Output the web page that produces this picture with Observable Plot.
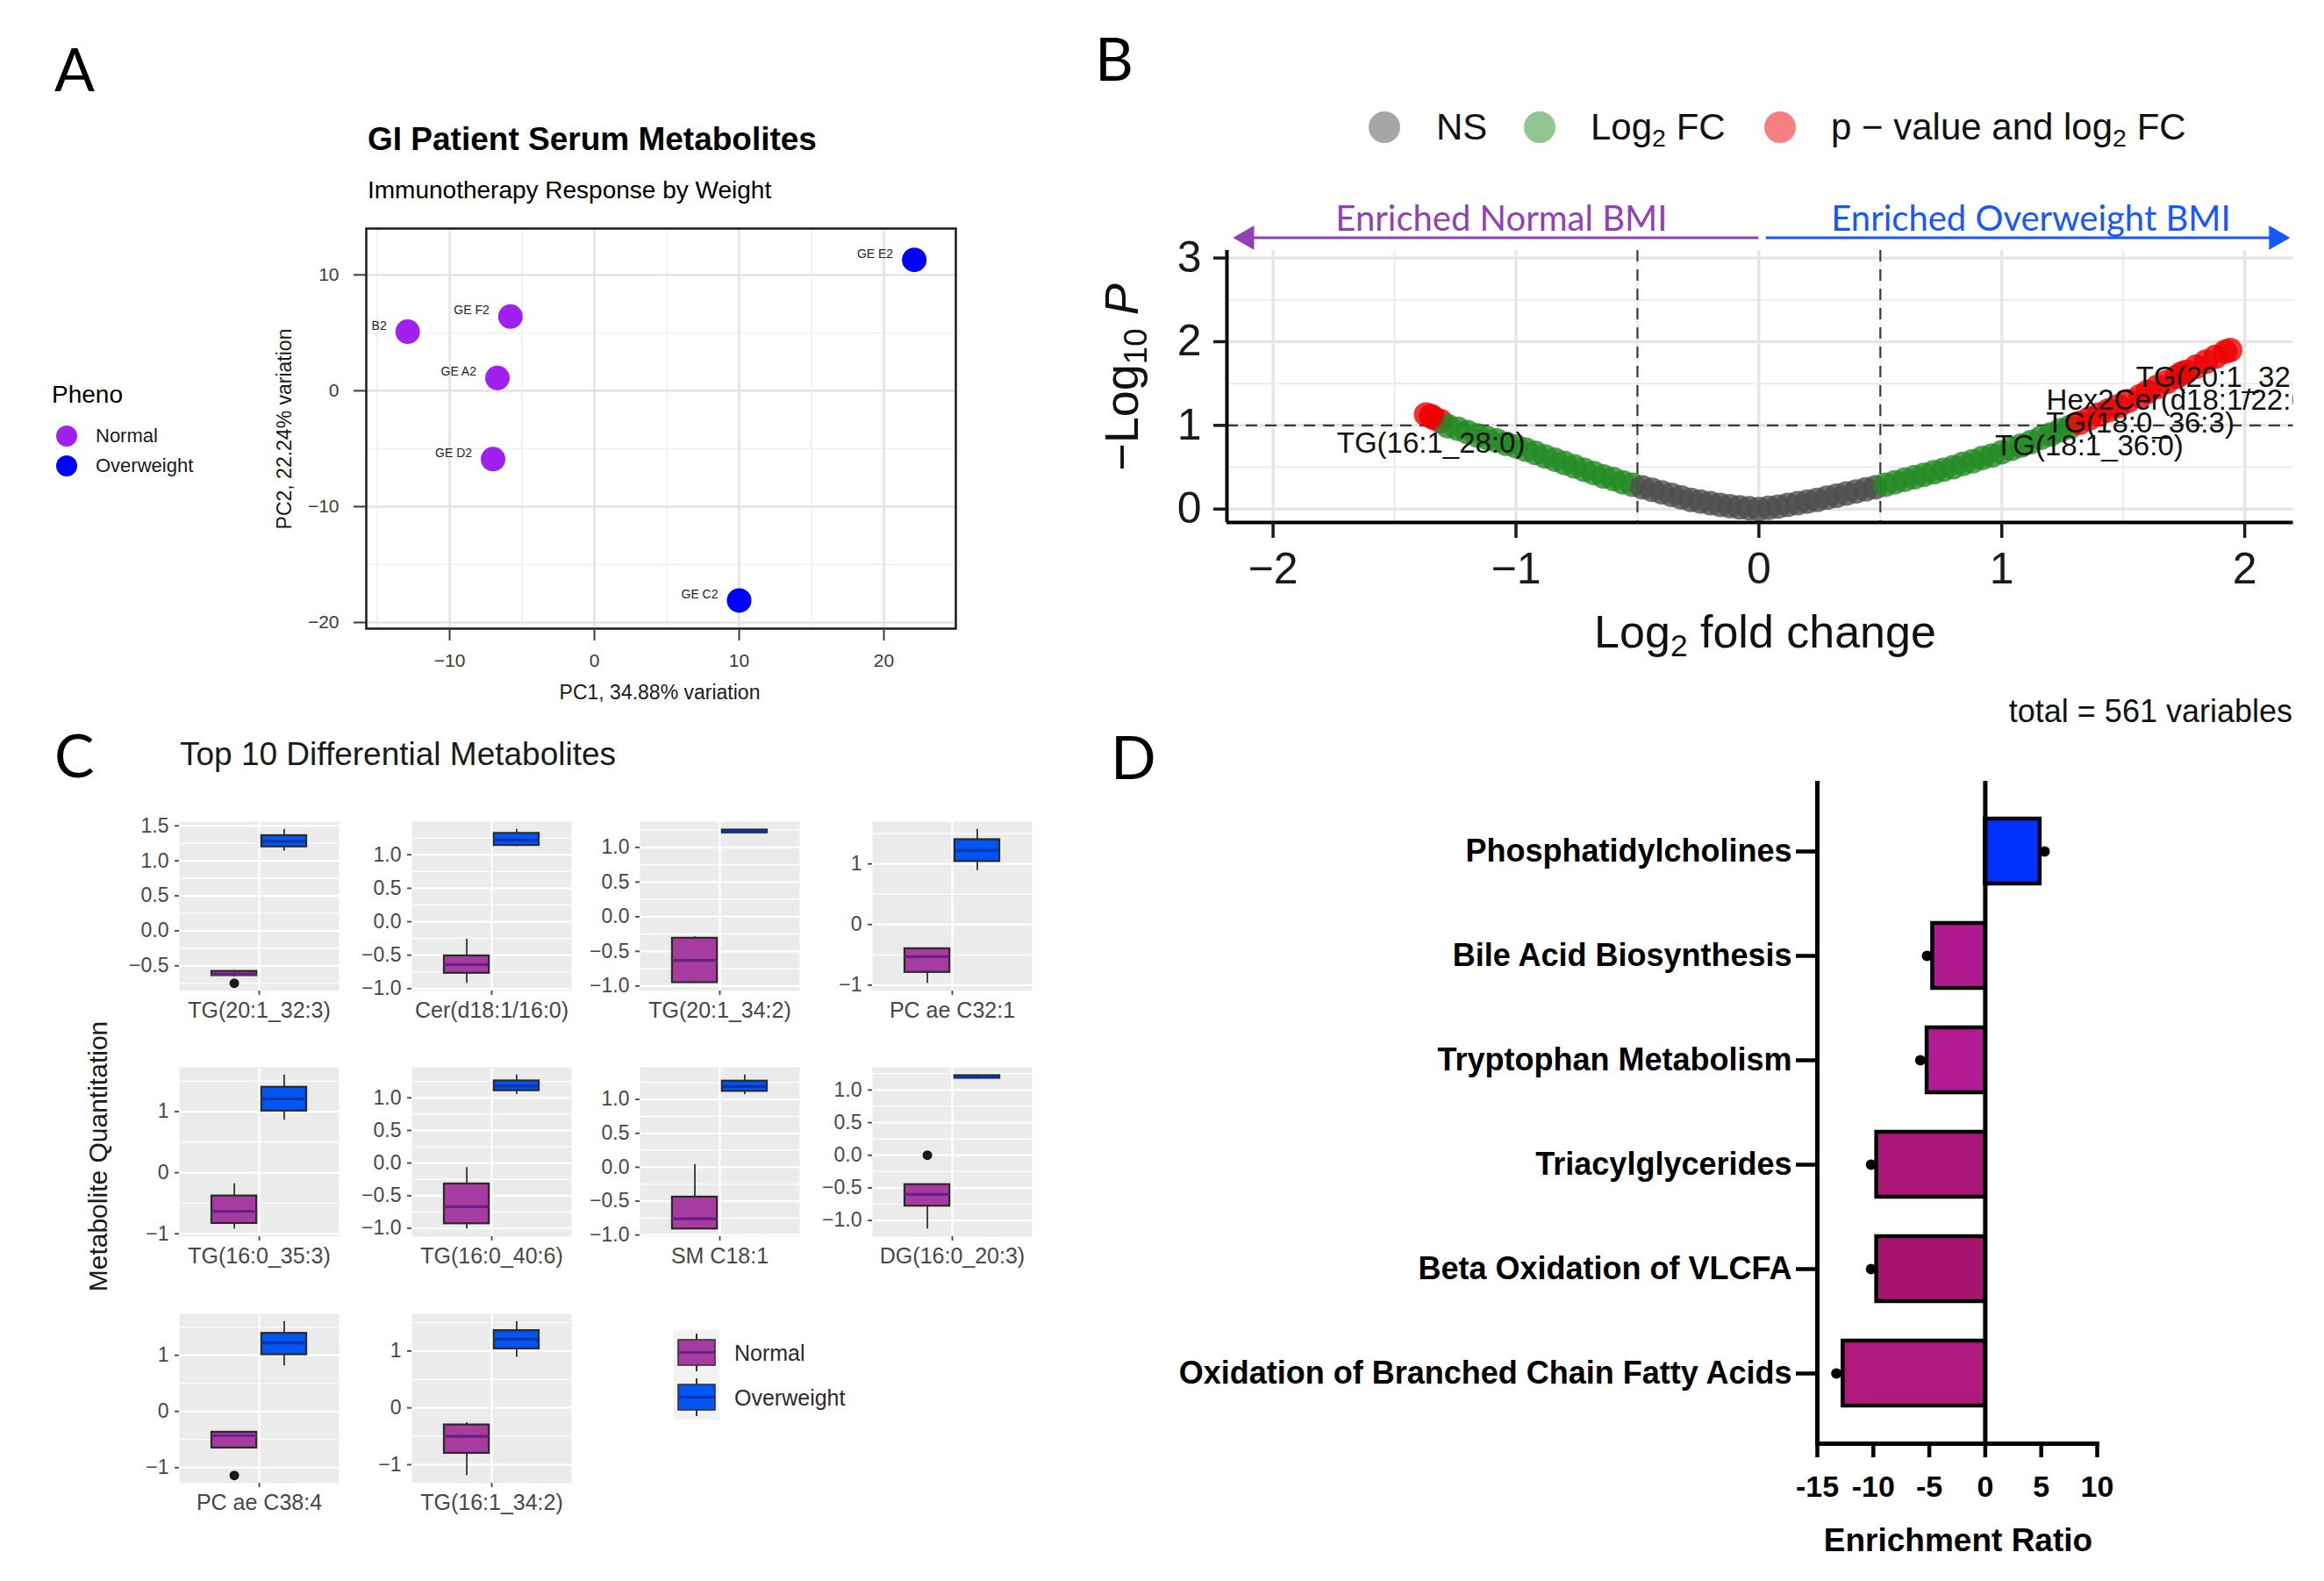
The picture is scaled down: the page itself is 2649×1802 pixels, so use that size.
<!DOCTYPE html>
<html>
<head>
<meta charset="utf-8">
<script src="https://cdn.jsdelivr.net/npm/d3@7"></script>
<script src="https://cdn.jsdelivr.net/npm/@observablehq/plot@0.6"></script>
<style>
  html, body { margin:0; padding:0; background:#fff; }
  body { position:relative; width:2649px; height:1802px; overflow:hidden; font-family:"Liberation Sans", Arial, sans-serif; }
  .t { position:absolute; white-space:nowrap; line-height:1; }
  .p { position:absolute; }
  .p svg { overflow:visible; }
  .sub { font-size:0.68em; position:relative; top:0.28em; }
</style>
</head>
<body>
<script>
// ================= DATA =================
// Panel A : PCA
const pcaSamples = ["GE E2", "GE F2", "GE B2", "GE A2", "GE D2", "GE C2"];
const pcaPC1 = [22.1, -5.8, -12.9, -6.7, -7.0, 10.0];
const pcaPC2 = [11.3, 6.4, 5.1, 1.1, -5.9, -18.1];
const pcaPheno = ["Overweight", "Normal", "Normal", "Normal", "Normal", "Overweight"];
const pcaXTicks = [-10, 0, 10, 20];
const pcaYTicks = [-20, -10, 0, 10];
const phenoLevels = ["Normal", "Overweight"];

// Panel B : volcano
const volcanoFC = [-1.37,-1.34,-1.31,-1.28,-1.24,-1.20,-1.16,-1.12,-1.08,-1.04,-1.00,-0.96,-0.92,-0.88,-0.84,-0.80,-0.76,-0.72,-0.68,-0.64,-0.60,-0.56,-0.52,-0.48,-0.44,-0.40,-0.36,-0.32,-0.28,-0.24,-0.20,-0.16,-0.12,-0.08,-0.04,0.00,0.04,0.08,0.12,0.16,0.20,0.24,0.28,0.32,0.36,0.40,0.44,0.48,0.52,0.56,0.60,0.64,0.68,0.72,0.76,0.80,0.84,0.88,0.92,0.96,1.00,1.04,1.08,1.12,1.16,1.20,1.24,1.28,1.32,1.40,1.44,1.48,1.52,1.60,1.64,1.68,1.72,1.76,1.80,1.84,1.88,1.92];
const volcanoLogP = [1.13,1.09,1.05,0.99,0.96,0.92,0.88,0.85,0.82,0.78,0.75,0.71,0.67,0.63,0.59,0.55,0.51,0.47,0.43,0.39,0.36,0.32,0.29,0.26,0.23,0.20,0.17,0.14,0.11,0.09,0.07,0.05,0.035,0.02,0.01,0.0,0.015,0.03,0.05,0.07,0.09,0.11,0.135,0.16,0.185,0.21,0.235,0.26,0.29,0.32,0.35,0.38,0.41,0.44,0.47,0.50,0.54,0.57,0.61,0.64,0.68,0.72,0.76,0.80,0.85,0.89,0.94,0.98,1.03,1.13,1.18,1.23,1.29,1.40,1.46,1.52,1.58,1.64,1.70,1.76,1.82,1.88];
const labelNames = ["TG(16:1_28:0)", "TG(18:1_36:0)", "TG(18:0_36:3)", "Hex2Cer(d18:1/22:0)", "TG(20:1_32:3)"];
const labelFC = [-1.35, 1.36, 1.57, 1.74, 1.94];
const labelLogP = [1.11, 1.08, 1.35, 1.62, 1.90];
const volcanoXTicks = [-2, -1, 0, 1, 2];
const volcanoYTicks = [0, 1, 2, 3];
const volcanoCats = ["NS", "Log2 FC", "p-value and log2 FC"];

// Panel C : boxplots
const metabolites = ["TG(20:1_32:3)", "Cer(d18:1/16:0)", "TG(20:1_34:2)", "PC ae C32:1", "TG(16:0_35:3)", "TG(16:0_40:6)", "SM C18:1", "DG(16:0_20:3)", "PC ae C38:4", "TG(16:1_34:2)"];
const normalMin = [-0.66, -0.92, -0.96, -0.97, -0.92, -1.01, -0.91, -1.13, -0.65, -1.19];
const normalQ1  = [-0.64, -0.77, -0.95, -0.79, -0.83, -0.93, -0.91, -0.78, -0.65, -0.80];
const normalMed = [-0.62, -0.64, -0.63, -0.53, -0.63, -0.67, -0.76, -0.60, -0.43, -0.50];
const normalQ3  = [-0.58, -0.51, -0.31, -0.40, -0.38, -0.32, -0.44, -0.45, -0.37, -0.30];
const normalMax = [-0.57, -0.26, -0.29, -0.40, -0.18, -0.07, 0.04, -0.45, -0.36, -0.26];
const normalOutliers = [[-0.75], [], [], [], [], [], [], [0.0], [-1.14], []];
const overweightMin = [1.14, 1.12, 1.20, 0.89, 0.86, 1.05, 1.07, 1.17, 0.81, 0.89];
const overweightQ1  = [1.20, 1.14, 1.21, 1.04, 1.01, 1.11, 1.12, 1.18, 1.01, 1.04];
const overweightMed = [1.28, 1.22, 1.23, 1.22, 1.21, 1.18, 1.19, 1.20, 1.22, 1.21];
const overweightQ3  = [1.36, 1.32, 1.25, 1.40, 1.40, 1.26, 1.27, 1.22, 1.39, 1.36];
const overweightMax = [1.45, 1.38, 1.26, 1.57, 1.60, 1.35, 1.36, 1.23, 1.60, 1.52];
const yTickStep = [0.5, 0.5, 0.5, 1, 1, 0.5, 0.5, 0.5, 1, 1];

// Panel D : enrichment
const pathways = ["Phosphatidylcholines", "Bile Acid Biosynthesis", "Tryptophan Metabolism", "Triacylglycerides", "Beta Oxidation of VLCFA", "Oxidation of Branched Chain Fatty Acids"];
const enrichmentRatio = [4.9, -4.7, -5.2, -9.7, -9.7, -12.7];
const enrichmentPoint = [5.3, -5.2, -5.8, -10.2, -10.2, -13.3];
const enrichXTicks = [-15, -10, -5, 0, 5, 10];
const totalVariables = 561;

// ================= STYLE =================
const SANS = '"Liberation Sans", Arial, sans-serif';
const LATO = 'Lato, "Open Sans", sans-serif';
const PURPLE_PCA = "#A020F0", BLUE_PCA = "#0000FF";
const NS_COL = "#4D4D4D", FC_COL = "#228B22", SIG_COL = "#EE0000";
const ARROW_PURPLE = "#9140B8", ARROW_BLUE = "#1558FF";
const BOX_N = "#A63CA0", BOX_N_MED = "#6B1F87", BOX_O = "#0055F5", BOX_O_MED = "#0A34A8";
const barColors = ["#0031FF", "#B0198F", "#B21B93", "#AB1779", "#A5146F", "#B0197E"];

function text(html, x, y, o = {}) {
  const d = document.createElement("div");
  d.className = "t";
  d.innerHTML = html;
  const a = o.anchor || "start";
  const tx = a === "middle" ? "-50%" : a === "end" ? "-100%" : "0%";
  d.style.left = x + "px";
  d.style.top = y + "px";
  d.style.fontFamily = o.family || SANS;
  d.style.fontSize = (o.size || 20) + "px";
  d.style.fontWeight = o.weight || "normal";
  d.style.color = o.color || "#000";
  d.style.transform = `translate(${tx}, -50%)` + (o.rotate ? ` rotate(${o.rotate}deg)` : "");
  document.body.appendChild(d);
  return d;
}
function place(svg, frameLeft, frameTop, m) {
  const wrap = document.createElement("div");
  wrap.className = "p";
  wrap.style.left = (frameLeft - m.left) + "px";
  wrap.style.top = (frameTop - m.top) + "px";
  wrap.appendChild(svg);
  document.body.appendChild(wrap);
}
function dims(f, m) {
  return {
    width: f.width + m.left + m.right, height: f.height + m.top + m.bottom,
    marginTop: m.top, marginRight: m.right, marginBottom: m.bottom, marginLeft: m.left
  };
}
const fmtMinus = d => d < 0 ? "\u2212" + Math.abs(d) : String(d);

// ================= PANEL LETTERS =================
text("A", 62, 78, {size: 68, family: LATO});
text("B", 1248, 66, {size: 68, family: LATO});
text("C", 62, 860, {size: 68, family: LATO});
text("D", 1266, 862, {size: 68, family: LATO});

// ================= PANEL A =================
{
  const pca = pcaSamples.map((s, i) => ({sample: s, pc1: pcaPC1[i], pc2: pcaPC2[i], pheno: pcaPheno[i]}));
  const f = {left: 417, top: 260, width: 672, height: 456};
  const m = {top: 10, right: 10, bottom: 70, left: 90};
  const svg = Plot.plot({
    ...dims(f, m),
    style: {background: "transparent", fontFamily: SANS, fontSize: "21px", overflow: "visible"},
    x: {domain: [-15.76, 24.97]},
    y: {domain: [-20.53, 14.0]},
    color: {domain: phenoLevels, range: [PURPLE_PCA, BLUE_PCA]},
    marks: [
      Plot.gridX([-15, -5, 5, 15], {stroke: "#EDEDED", strokeOpacity: 1, strokeWidth: 1.4}),
      Plot.gridY([-15, -5, 5], {stroke: "#EDEDED", strokeOpacity: 1, strokeWidth: 1.4}),
      Plot.gridX(pcaXTicks, {stroke: "#E4E4E4", strokeOpacity: 1, strokeWidth: 2.6}),
      Plot.gridY(pcaYTicks, {stroke: "#E4E4E4", strokeOpacity: 1, strokeWidth: 2.6}),
      Plot.frame({stroke: "#1a1a1a", strokeWidth: 2.5}),
      Plot.axisX(pcaXTicks, {tickSize: 14, tickPadding: 15, strokeWidth: 2, color: "#3a3a3a", tickFormat: fmtMinus, label: null}),
      Plot.axisY(pcaYTicks, {tickSize: 14, tickPadding: 17, strokeWidth: 2, color: "#3a3a3a", tickFormat: fmtMinus, label: null}),
      Plot.dot(pca, {x: "pc1", y: "pc2", fill: "pheno", r: 14}),
      Plot.text(pca, {x: "pc1", y: "pc2", text: "sample", dx: -24, dy: -7, textAnchor: "end", fontSize: 14, fill: "#222", clip: true})
    ]
  });
  place(svg, f.left, f.top, m);
  text("GI Patient Serum Metabolites", 419, 158, {size: 37, weight: "bold"});
  text("Immunotherapy Response by Weight", 419, 217, {size: 28});
  text("PC1, 34.88% variation", 752, 789, {size: 23, anchor: "middle", color: "#1a1a1a"});
  text("PC2, 22.24% variation", 324, 489, {size: 23, anchor: "middle", rotate: -90, color: "#1a1a1a"});
  // legend
  text("Pheno", 59, 450, {size: 28});
  const lg = document.createElement("div");
  lg.className = "p";
  lg.style.left = "60px"; lg.style.top = "481px";
  lg.innerHTML = phenoLevels.map((p, i) =>
    `<svg width="32" height="32" style="position:absolute;left:0;top:${i * 34}px"><circle cx="16" cy="16" r="12" fill="${[PURPLE_PCA, BLUE_PCA][i]}"/></svg>`).join("");
  document.body.appendChild(lg);
  phenoLevels.forEach((p, i) => text(p, 109, 497 + i * 34, {size: 22, color: "#1a1a1a"}));
}

// ================= PANEL B =================
{
  const FC_CUT = 0.5, P_CUT = 1;
  const pts = volcanoFC.map((fc, i) => ({fc, lp: volcanoLogP[i]}))
    .concat(labelNames.map((n, i) => ({fc: labelFC[i], lp: labelLogP[i], name: n})));
  pts.forEach(d => {
    d.cat = Math.abs(d.fc) > FC_CUT && d.lp > P_CUT ? volcanoCats[2] : Math.abs(d.fc) > FC_CUT ? volcanoCats[1] : volcanoCats[0];
  });
  const labelled = pts.filter(d => d.name);
  const f = {left: 1398, top: 285, width: 1215.5, height: 310};
  const m = {top: 100, right: 30, bottom: 110, left: 150};
  const yArrow = 3.243, yArrowText = 3.46;
  const svg = Plot.plot({
    ...dims(f, m),
    style: {background: "transparent", fontFamily: SANS, fontSize: "50px", overflow: "visible"},
    x: {domain: [-2.19, 2.2]},
    y: {domain: [-0.16, 3.09]},
    color: {domain: volcanoCats, range: [NS_COL, FC_COL, SIG_COL]},
    marks: [
      Plot.gridX([-1.5, -0.5, 0.5, 1.5], {stroke: "#EBEBEB", strokeOpacity: 1, strokeWidth: 2}),
      Plot.gridY([0.5, 1.5, 2.5], {stroke: "#EBEBEB", strokeOpacity: 1, strokeWidth: 2}),
      Plot.gridX(volcanoXTicks, {stroke: "#E6E6E6", strokeOpacity: 1, strokeWidth: 3.5}),
      Plot.gridY(volcanoYTicks, {stroke: "#E6E6E6", strokeOpacity: 1, strokeWidth: 3.5}),
      Plot.ruleX([-FC_CUT, FC_CUT], {stroke: "#3a3a3a", strokeWidth: 2.2, strokeDasharray: "13,9"}),
      Plot.ruleY([P_CUT], {stroke: "#3a3a3a", strokeWidth: 2.2, strokeDasharray: "13,9"}),
      Plot.dot(pts, {x: "fc", y: "lp", fill: "cat", r: 14, fillOpacity: 0.8}),
      Plot.text(labelled, {x: "fc", y: "lp", text: "name", dy: 31, fontSize: 33, fill: "#111", clip: true}),
      Plot.ruleY([-0.16], {stroke: "#000", strokeWidth: 4}),
      Plot.ruleX([-2.19], {stroke: "#000", strokeWidth: 4}),
      Plot.axisX(volcanoXTicks, {tickSize: 18, tickPadding: 16, strokeWidth: 3.5, color: "#1a1a1a", tickFormat: fmtMinus, label: null}),
      Plot.axisY(volcanoYTicks, {tickSize: 15, tickPadding: 14, strokeWidth: 3.5, color: "#1a1a1a", tickFormat: d => String(d), label: null}),
      // direction arrows
      Plot.ruleY([yArrow], {x1: 0, x2: -2.11, stroke: ARROW_PURPLE, strokeWidth: 3}),
      Plot.ruleY([yArrow], {x1: 0.03, x2: 2.13, stroke: ARROW_BLUE, strokeWidth: 3}),
      Plot.dot([-2.107], {x: d => d, y: yArrow, symbol: "triangle", rotate: -90, r: 10.3, fill: ARROW_PURPLE}),
      Plot.dot([2.129], {x: d => d, y: yArrow, symbol: "triangle", rotate: 90, r: 10.3, fill: ARROW_BLUE}),
      Plot.text(["Enriched Normal BMI"], {x: -1.06, y: yArrowText, text: d => d, fill: ARROW_PURPLE, fontSize: 40, fontFamily: LATO}),
      Plot.text(["Enriched Overweight BMI"], {x: 1.12, y: yArrowText, text: d => d, fill: ARROW_BLUE, fontSize: 40, fontFamily: LATO})
    ]
  });
  place(svg, f.left, f.top, m);
  text('Log<span class="sub">2</span> fold change', 2012, 720, {size: 52, anchor: "middle", color: "#111"});
  text('\u2212Log<span class="sub">10</span> <i>P</i>', 1278, 430, {size: 54, anchor: "middle", rotate: -90, color: "#111"});
  // legend
  const legendItems = [
    {col: NS_COL, x: 1578, tx: 1637, html: "NS"},
    {col: FC_COL, x: 1755, tx: 1813, html: 'Log<span class="sub">2</span> FC'},
    {col: SIG_COL, x: 2029, tx: 2087, html: 'p \u2212 value and log<span class="sub">2</span> FC'}
  ];
  legendItems.forEach(it => {
    const d = document.createElement("div");
    d.className = "p";
    d.style.left = (it.x - 18) + "px"; d.style.top = (145 - 18) + "px";
    d.innerHTML = `<svg width="36" height="36"><circle cx="18" cy="18" r="18" fill="${it.col}" fill-opacity="0.5"/></svg>`;
    document.body.appendChild(d);
    text(it.html, it.tx, 145, {size: 42, color: "#111"});
  });
  text(`total = ${totalVariables} variables`, 2613, 811, {size: 36, anchor: "end", color: "#111"});
}

// ================= PANEL C =================
{
  text("Top 10 Differential Metabolites", 205, 859, {size: 37, color: "#1a1a1a"});
  text("Metabolite Quantitation", 112, 1318, {size: 30, anchor: "middle", rotate: -90, color: "#1a1a1a"});
  const cols = [204, 469, 729, 994];
  const rows = [936, 1216, 1497];
  const f0 = {width: 182, height: 193};
  const m = {top: 6, right: 6, bottom: 50, left: 70};
  const dodge = 0.1875, halfBox = 0.16875;
  metabolites.forEach((name, i) => {
    const left = cols[i % 4], top = rows[Math.floor(i / 4)];
    const gN = {pos: 1 - dodge, min: normalMin[i], q1: normalQ1[i], med: normalMed[i], q3: normalQ3[i], max: normalMax[i]};
    const gO = {pos: 1 + dodge, min: overweightMin[i], q1: overweightQ1[i], med: overweightMed[i], q3: overweightQ3[i], max: overweightMax[i]};
    const outs = normalOutliers[i].map(v => ({pos: 1 - dodge, v}));
    const all = [gN.min, gN.max, gO.min, gO.max, ...outs.map(o => o.v)];
    const lo = d3.min(all), hi = d3.max(all), pad = (hi - lo) * 0.05;
    const dom = [lo - pad, hi + pad];
    const step = yTickStep[i];
    const ticks = d3.range(Math.ceil(dom[0] / step - 1e-9) * step, dom[1] + 1e-9, step).map(v => +v.toFixed(3));
    const minor = d3.range(Math.floor(dom[0] / step) * step + step / 2, dom[1], step).filter(v => v > dom[0]);
    const fmt = step < 1 ? d3.format(".1f") : d3.format("d");
    const f = {left, top, ...f0};
    const boxMarks = (g, fill, med) => [
      Plot.ruleX([g], {x: "pos", y1: "min", y2: "max", stroke: "#333", strokeWidth: 1.8}),
      Plot.rect([g], {x1: d => d.pos - halfBox, x2: d => d.pos + halfBox, y1: "q1", y2: "q3", fill, stroke: "#2a2a2a", strokeWidth: 2.2}),
      Plot.ruleY([g], {y: "med", x1: d => d.pos - halfBox, x2: d => d.pos + halfBox, stroke: med, strokeWidth: 3.2})
    ];
    const svg = Plot.plot({
      ...dims(f, m),
      style: {background: "transparent", fontFamily: SANS, fontSize: "23px", overflow: "visible"},
      x: {domain: [0.4, 1.6]},
      y: {domain: dom},
      marks: [
        Plot.frame({fill: "#EBEBEB", stroke: "none"}),
        Plot.gridY(minor, {stroke: "#fff", strokeOpacity: 1, strokeWidth: 1.1}),
        Plot.gridY(ticks, {stroke: "#fff", strokeOpacity: 1, strokeWidth: 2.2}),
        Plot.gridX([1], {stroke: "#fff", strokeOpacity: 1, strokeWidth: 2.2}),
        ...boxMarks(gN, BOX_N, BOX_N_MED),
        ...boxMarks(gO, BOX_O, BOX_O_MED),
        Plot.dot(outs, {x: "pos", y: "v", r: 5.5, fill: "#1a1a1a"}),
        Plot.axisY(ticks, {tickSize: 5, tickPadding: 7, strokeWidth: 1.8, color: "#474747", tickFormat: fmt, label: null}),
        Plot.axisX([1], {tickSize: 5, tickPadding: 8, strokeWidth: 1.8, color: "#474747", fontSize: 25, tickFormat: () => name, label: null})
      ]
    });
    place(svg, f.left, f.top, m);
  });
  // legend
  const key = (fill, med) => `<svg width="52" height="51"><rect width="52" height="51" fill="#F2F2F2"/><line x1="26" y1="4" x2="26" y2="47" stroke="#333" stroke-width="2"/><rect x="5" y="11" width="42" height="29" fill="${fill}" stroke="#333" stroke-width="1.6"/><line x1="5" y1="25.5" x2="47" y2="25.5" stroke="${med}" stroke-width="3"/></svg>`;
  [[BOX_N, BOX_N_MED], [BOX_O, BOX_O_MED]].forEach(([fc, mc], i) => {
    const d = document.createElement("div");
    d.className = "p";
    d.style.left = "768px"; d.style.top = (1516 + i * 51) + "px";
    d.innerHTML = key(fc, mc);
    document.body.appendChild(d);
    text(phenoLevels[i], 837, 1542 + i * 51, {size: 25, color: "#2a2a2a"});
  });
}

// ================= PANEL D =================
{
  const data = pathways.map((p, i) => ({name: p, value: enrichmentRatio[i], point: enrichmentPoint[i]}));
  const f = {left: 2071, top: 890, width: 319, height: 755};
  const m = {top: 10, right: 40, bottom: 100, left: 760};
  const svg = Plot.plot({
    ...dims(f, m),
    style: {background: "transparent", fontFamily: SANS, fontSize: "36px", fontWeight: "bold", overflow: "visible"},
    x: {domain: [-15, 10]},
    y: {domain: pathways, type: "band", paddingInner: 0.378, paddingOuter: 0.36},
    color: {domain: pathways, range: barColors},
    marks: [
      Plot.barX(data, {x1: 0, x2: "value", y: "name", fill: "name", stroke: "#000", strokeWidth: 4.5}),
      Plot.dot(data, {x: "point", y: "name", r: 6, fill: "#000"}),
      Plot.ruleX([-15], {stroke: "#000", strokeWidth: 5}),
      Plot.ruleX([0], {stroke: "#000", strokeWidth: 5}),
      Plot.frame({anchor: "bottom", stroke: "#000", strokeWidth: 5}),
      Plot.axisY({tickSize: 24, tickPadding: 5, strokeWidth: 4.5, color: "#000", fontWeight: "bold", label: null}),
      Plot.axisX(enrichXTicks, {tickSize: 16, tickPadding: 20, strokeWidth: 4.5, color: "#000", fontSize: 34, fontWeight: "bold", tickFormat: d => String(d), label: null})
    ]
  });
  place(svg, f.left, f.top, m);
  text("Enrichment Ratio", 2232, 1755, {size: 37, weight: "bold", anchor: "middle", color: "#000"});
}
</script>
</body>
</html>
